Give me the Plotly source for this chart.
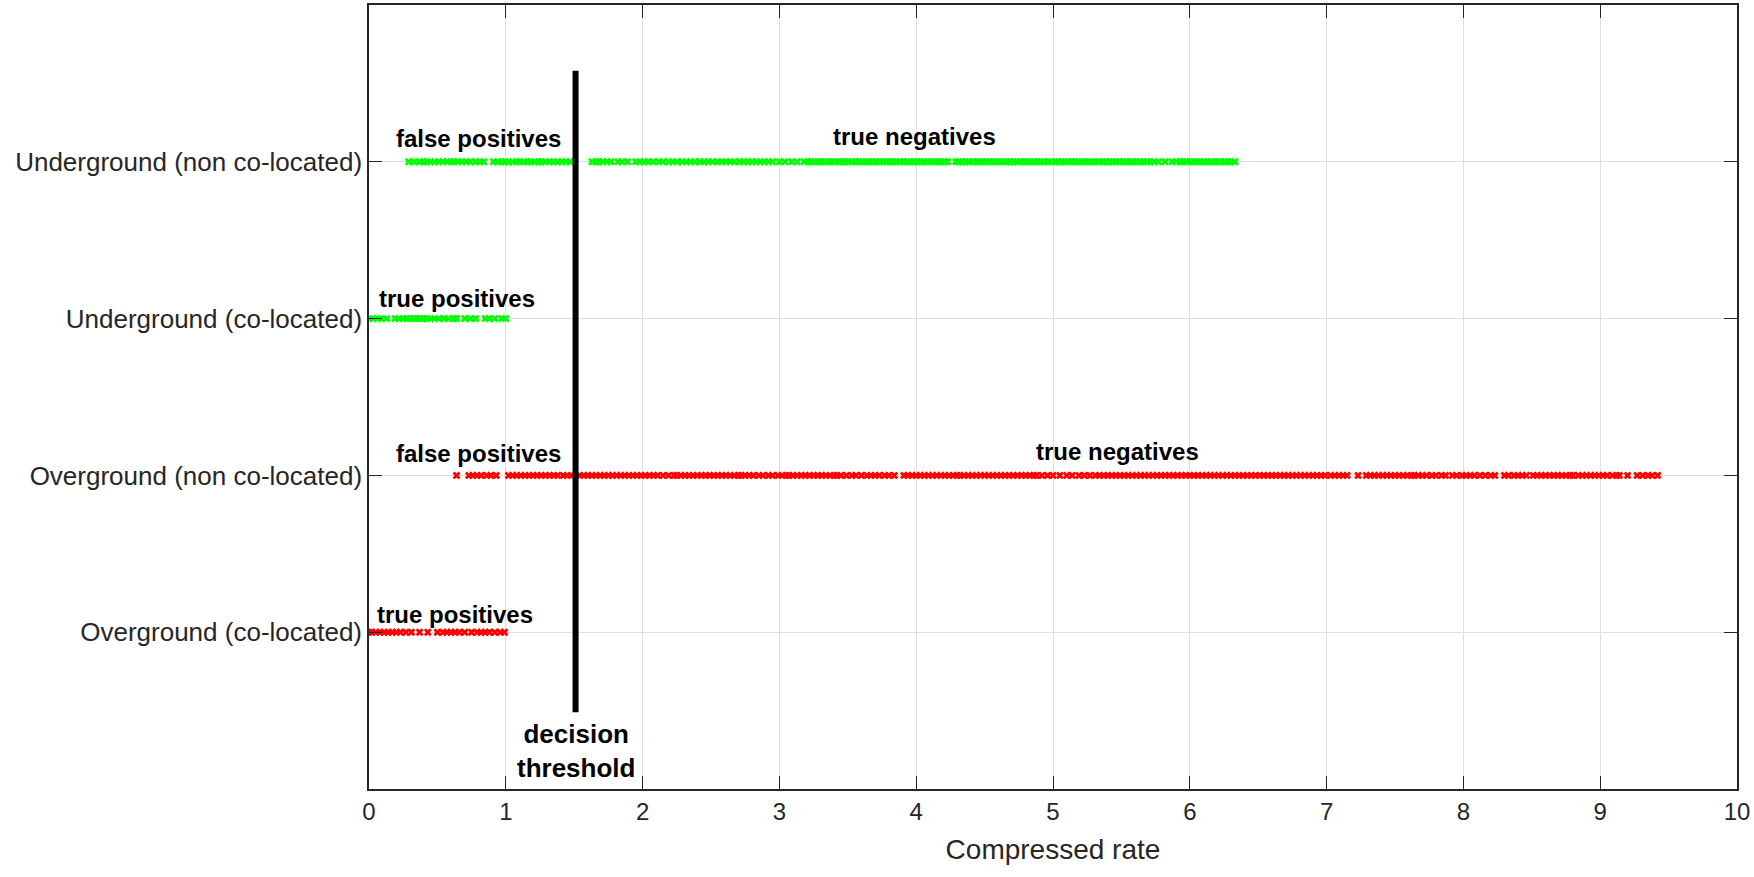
import plotly.graph_objects as go

# category rows (bottom to top)
row_labels = ["Overground (co-located)", "Overground (non co-located)",
              "Underground (co-located)", "Underground (non co-located)"]
row_pos = [1, 2, 3, 4]

# compressed rates
under_non = [0.29, 0.33, 0.37, 0.40, 0.42, 0.45, 0.48, 0.51, 0.54, 0.57, 0.60, 0.62,
             0.65, 0.68, 0.71, 0.74, 0.78, 0.81, 0.84,
             0.91, 0.94, 0.97, 0.99, 1.02, 1.05, 1.08, 1.10,
             1.13, 1.16, 1.18, 1.21, 1.24, 1.26, 1.29, 1.32, 1.35, 1.38, 1.41, 1.44, 1.47,
             1.63, 1.66, 1.68, 1.71, 1.74, 1.77, 1.82, 1.85, 1.89,
             1.95, 1.98, 2.01, 2.04, 2.08,
             2.12, 2.15, 2.19, 2.22, 2.25, 2.29, 2.32, 2.35, 2.38, 2.42, 2.45, 2.48,
             2.51, 2.55, 2.58, 2.61, 2.64, 2.67,
             2.71, 2.74, 2.77, 2.80, 2.83, 2.86, 2.89, 2.92, 2.95,
             3.00, 3.04, 3.09, 3.13,
             3.18, 3.21, 3.23, 3.26, 3.28, 3.31, 3.33, 3.36, 3.38, 3.41, 3.43, 3.46,
             3.48, 3.51, 3.53, 3.56, 3.58, 3.61, 3.63, 3.66, 3.68, 3.71, 3.73, 3.76,
             3.78, 3.81, 3.83, 3.86, 3.88, 3.91, 3.93, 3.96, 3.98, 4.01, 4.03, 4.06,
             4.08, 4.11, 4.13, 4.16, 4.18, 4.21, 4.23,
             4.29, 4.31, 4.34, 4.36, 4.39, 4.41, 4.44, 4.46, 4.49, 4.51, 4.54, 4.56,
             4.59, 4.61, 4.64, 4.66, 4.69, 4.71, 4.74, 4.76, 4.79, 4.81, 4.84, 4.86,
             4.89, 4.91, 4.94, 4.96, 4.99, 5.01, 5.04, 5.06, 5.09, 5.11, 5.14, 5.16,
             5.19, 5.21, 5.24, 5.26, 5.29, 5.31, 5.34, 5.36, 5.39, 5.41, 5.44, 5.46,
             5.49, 5.51, 5.54, 5.56, 5.59, 5.61, 5.64, 5.66, 5.69, 5.71, 5.74,
             5.77, 5.82, 5.87,
             5.90, 5.93, 5.95, 5.98, 6.00, 6.03, 6.05, 6.08, 6.10, 6.13, 6.15, 6.18,
             6.20, 6.23, 6.25, 6.28, 6.30, 6.33]

under_co = [0.00, 0.03, 0.06, 0.09, 0.13, 0.19, 0.22, 0.25, 0.28, 0.30, 0.33, 0.35,
            0.37, 0.40, 0.42, 0.45, 0.48, 0.51, 0.55, 0.58, 0.62, 0.64,
            0.70, 0.74, 0.78, 0.85, 0.88, 0.92, 0.97, 1.00]

over_non = [0.64, 0.73, 0.76, 0.79, 0.82, 0.86, 0.89, 0.93,
            1.02, 1.05, 1.08, 1.11, 1.14, 1.17, 1.20, 1.23, 1.26, 1.29, 1.32, 1.35,
            1.38, 1.42, 1.45,
            1.48, 1.51, 1.54, 1.57, 1.60, 1.63, 1.66, 1.69, 1.72, 1.75, 1.78, 1.81,
            1.84, 1.87, 1.90, 1.93, 1.96, 1.99, 2.02, 2.05, 2.08,
            2.11, 2.15, 2.19, 2.23,
            2.25, 2.28, 2.31, 2.34, 2.37, 2.40, 2.43, 2.46, 2.49, 2.52, 2.55, 2.58,
            2.61, 2.64, 2.67, 2.70,
            2.72, 2.75, 2.78, 2.81, 2.85, 2.88, 2.92, 2.95,
            2.99, 3.02, 3.05, 3.07, 3.10, 3.13, 3.16, 3.19, 3.22, 3.25, 3.28, 3.31,
            3.34, 3.37, 3.40, 3.42,
            3.45, 3.49, 3.53, 3.56, 3.60, 3.64, 3.67, 3.70, 3.73, 3.77, 3.80, 3.84,
            3.91, 3.94, 3.97, 4.00, 4.03, 4.06, 4.09, 4.12, 4.15, 4.18, 4.21, 4.24,
            4.27, 4.30, 4.32,
            4.35, 4.38, 4.41, 4.44, 4.47, 4.50, 4.53, 4.56, 4.59, 4.62, 4.65, 4.68,
            4.71, 4.74, 4.77, 4.80, 4.83, 4.86, 4.88,
            4.92, 4.96, 5.00, 5.05, 5.10, 5.14,
            5.19, 5.23, 5.27, 5.31, 5.34,
            5.37, 5.40, 5.43, 5.46, 5.49, 5.52, 5.55, 5.58, 5.61, 5.64, 5.67, 5.70,
            5.73, 5.76, 5.79, 5.82, 5.85, 5.88, 5.91, 5.94, 5.97, 6.00, 6.03, 6.06,
            6.09, 6.12, 6.15, 6.18, 6.21, 6.24,
            6.27, 6.30, 6.33, 6.36, 6.39, 6.42, 6.45, 6.48, 6.51, 6.54, 6.57,
            6.60, 6.63, 6.66, 6.69, 6.72, 6.75,
            6.78, 6.81, 6.84, 6.87, 6.90, 6.93, 6.96, 6.99, 7.03, 7.06, 7.09, 7.12, 7.15,
            7.23,
            7.29, 7.32, 7.35, 7.38, 7.41, 7.44, 7.47, 7.50, 7.53, 7.56, 7.59, 7.62, 7.64,
            7.67, 7.70, 7.73, 7.77, 7.80, 7.84, 7.87,
            7.92, 7.95, 7.99, 8.02, 8.05, 8.08,
            8.12, 8.16, 8.20, 8.23,
            8.30, 8.33, 8.37, 8.40, 8.43, 8.46,
            8.51, 8.54, 8.57, 8.60, 8.63, 8.66, 8.69, 8.72, 8.75, 8.78, 8.80,
            8.84, 8.87, 8.90, 8.93, 8.96, 8.99, 9.02, 9.05, 9.09, 9.12, 9.14,
            9.20,
            9.27, 9.31, 9.35, 9.38, 9.42]

over_co = [0.00, 0.02, 0.05, 0.08, 0.11, 0.14, 0.17, 0.20, 0.23, 0.27, 0.31,
           0.37, 0.43,
           0.50, 0.54, 0.57, 0.60, 0.63, 0.66, 0.70,
           0.75, 0.79, 0.82, 0.85, 0.88, 0.92, 0.96, 0.99]

threshold = 1.51
threshold_span = [0.49, 4.58]

# text labels: (text, x, y)
notes = [("false positives", 0.80, 4.15), ("true negatives", 3.99, 4.16),
         ("true positives", 0.645, 3.13),
         ("false positives", 0.80, 2.14), ("true negatives", 5.47, 2.15),
         ("true positives", 0.63, 1.11)]

GREEN = "#00ff00"
RED = "#ff0000"
AXIS = "#262626"

fig = go.Figure()

series = [(under_non, 4, GREEN), (under_co, 3, GREEN),
          (over_non, 2, RED), (over_co, 1, RED)]
for xs, row, col in series:
    fig.add_trace(go.Scatter(x=xs, y=[row] * len(xs), mode="markers",
                             marker=dict(symbol="x", size=7, color=col,
                                         line=dict(width=0)),
                             showlegend=False, hoverinfo="x"))

# decision threshold
fig.add_trace(go.Scatter(x=[threshold, threshold], y=threshold_span, mode="lines",
                         line=dict(color="black", width=6), showlegend=False))

for txt, x, y in notes:
    fig.add_annotation(x=x, y=y, text=txt, showarrow=False, xanchor="center",
                       yanchor="middle",
                       font=dict(family="Liberation Sans", size=24, color="black",
                                 weight="bold"))
fig.add_annotation(x=threshold, y=0.24, text="decision<br>threshold", showarrow=False,
                   xanchor="center", yanchor="middle",
                   font=dict(family="Liberation Sans", size=26, color="black",
                             weight="bold"))

fig.update_layout(
    width=1754, height=877,
    margin=dict(l=369, r=17, t=3, b=88),
    plot_bgcolor="white", paper_bgcolor="white",
    font=dict(family="Liberation Sans", size=26, color=AXIS),
)
fig.update_xaxes(range=[0, 10], dtick=1, showgrid=True, gridcolor="#dedede",
                 gridwidth=1, zeroline=False, showline=True, linecolor=AXIS,
                 linewidth=1.5, mirror="ticks", ticks="inside", ticklen=13,
                 tickcolor=AXIS, tickfont=dict(size=24, color=AXIS),
                 title=dict(text="Compressed rate", font=dict(size=28, color=AXIS),
                            standoff=16))
fig.update_yaxes(range=[0, 5], tickvals=row_pos, ticktext=row_labels, showgrid=True,
                 gridcolor="#dedede", gridwidth=1, zeroline=False, showline=True,
                 linecolor=AXIS, linewidth=1.5, mirror="ticks", ticks="inside",
                 ticklen=13, tickcolor=AXIS, tickfont=dict(size=26, color=AXIS))

# drop the default page margin so the figure sits at the window's top-left corner
fig.write_html("out.html", config={"displayModeBar": False},
               post_script="document.body.style.margin='0';"
                           "document.body.style.overflow='hidden';")
